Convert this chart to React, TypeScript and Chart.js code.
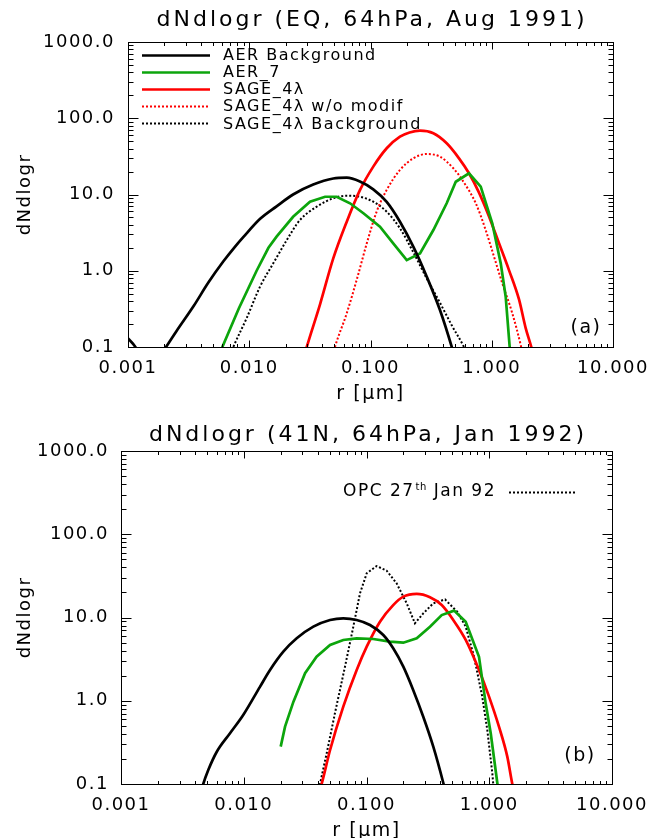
import React, { useEffect, useRef } from 'react';
import { Chart, registerables } from 'chart.js';

Chart.register(...registerables);

const FONT = 'DejaVu Sans';

// ---- axis ticks ----
const xTickValues = [0.001, 0.01, 0.1, 1, 10];
const xTickLabels = ['0.001', '0.010', '0.100', '1.000', '10.000'];
const yTickValues = [0.1, 1, 10, 100, 1000];
const yTickLabels = ['0.1', '1.0', '10.0', '100.0', '1000.0'];

// ---- panel (a): EQ, 64hPa, Aug 1991 ----
const aerBgA_r = [0.001, 0.00115, 0.0013, 0.0015, 0.0017, 0.00206, 0.0025, 0.0035, 0.0046, 0.0061, 0.0075, 0.009, 0.0123, 0.0168, 0.023, 0.0337, 0.0493, 0.0637, 0.0818, 0.1054, 0.136, 0.175, 0.2254, 0.2906, 0.374, 0.468, 0.52];
const aerBgA_y = [0.13, 0.1, 0.065, 0.045, 0.062, 0.1, 0.16, 0.35, 0.7, 1.32, 2.0, 2.8, 4.8, 7.0, 10.0, 13.5, 16.2, 16.6, 14.8, 11.7, 8.0, 4.4, 2.07, 0.84, 0.305, 0.1, 0.055];

const aer7A_r = [0.0057, 0.006, 0.0082, 0.0115, 0.0144, 0.0168, 0.023, 0.0317, 0.0422, 0.0526, 0.0678, 0.0874, 0.1197, 0.154, 0.199, 0.256, 0.33, 0.425, 0.505, 0.649, 0.811, 1.01, 1.186, 1.303, 1.406, 1.45];
const aer7A_y = [0.08, 0.1, 0.32, 1.0, 2.0, 2.8, 5.1, 8.05, 9.35, 9.35, 7.67, 5.67, 3.78, 2.29, 1.38, 1.69, 3.42, 7.67, 14.7, 19.0, 12.7, 4.19, 1.25, 0.457, 0.1, 0.07];

const sageA_r = [0.028, 0.0298, 0.0383, 0.0493, 0.0637, 0.0818, 0.1054, 0.136, 0.175, 0.21, 0.256, 0.33, 0.425, 0.537, 0.649, 0.785, 0.948, 1.148, 1.387, 1.678, 1.9, 2.12, 2.2];
const sageA_y = [0.07, 0.1, 0.36, 1.45, 4.4, 11.4, 23.2, 40.4, 57.3, 65.0, 68.7, 63.5, 46.9, 29.8, 19.0, 10.6, 5.2, 2.29, 1.02, 0.42, 0.18, 0.1, 0.08];

const sageNoModA_r = [0.048, 0.0509, 0.0637, 0.0769, 0.0932, 0.1125, 0.136, 0.175, 0.2254, 0.2906, 0.374, 0.482, 0.571, 0.738, 0.891, 1.044, 1.222, 1.477, 1.733, 1.8];
const sageNoModA_y = [0.07, 0.1, 0.277, 0.757, 2.29, 6.0, 11.5, 21.0, 29.8, 34.0, 31.3, 22.1, 15.5, 7.67, 3.42, 1.53, 0.684, 0.277, 0.106, 0.08];

const sageBgA_r = [0.007, 0.00739, 0.00953, 0.01227, 0.01577, 0.0204, 0.0262, 0.036, 0.0493, 0.0637, 0.0818, 0.1054, 0.136, 0.175, 0.2254, 0.29, 0.374, 0.47, 0.59, 0.65];
const sageBgA_y = [0.08, 0.1, 0.24, 0.618, 1.25, 2.53, 4.63, 6.92, 8.92, 9.64, 9.35, 8.05, 5.95, 3.6, 1.75, 0.8, 0.38, 0.19, 0.1, 0.07];

// ---- panel (b): 41N, 64hPa, Jan 1992 ----
const aerBgB_r = [0.0045, 0.00468, 0.00514, 0.00603, 0.00773, 0.0099, 0.01355, 0.01637, 0.021, 0.027, 0.0369, 0.0505, 0.0647, 0.0832, 0.1068, 0.137, 0.165, 0.1995, 0.24, 0.29, 0.35, 0.423, 0.45];
const aerBgB_y = [0.08, 0.1, 0.147, 0.244, 0.407, 0.674, 1.47, 2.34, 3.88, 5.62, 7.76, 9.33, 9.78, 9.33, 8.13, 6.16, 4.27, 2.57, 1.35, 0.643, 0.281, 0.102, 0.07];

const aer7B_r = [0.02, 0.0217, 0.0254, 0.0316, 0.0392, 0.0505, 0.0647, 0.0832, 0.1135, 0.155, 0.1995, 0.2565, 0.329, 0.41, 0.517, 0.643, 0.825, 0.935, 1.028, 1.164, 1.2];
const aer7B_y = [0.281, 0.488, 0.975, 2.14, 3.38, 4.67, 5.37, 5.62, 5.52, 5.12, 4.98, 5.62, 7.76, 10.7, 12.1, 8.91, 3.38, 0.931, 0.407, 0.102, 0.07];

const sageB_r = [0.04, 0.0431, 0.0505, 0.0647, 0.0832, 0.1004, 0.1288, 0.165, 0.1995, 0.2565, 0.329, 0.41, 0.509, 0.643, 0.825, 0.996, 1.2, 1.403, 1.541, 1.6];
const sageB_y = [0.07, 0.1, 0.256, 0.849, 2.34, 4.46, 8.91, 14.1, 17.8, 19.2, 17.5, 14.1, 9.33, 5.37, 2.34, 1.12, 0.488, 0.213, 0.1, 0.08];

const opcB_r = [0.04, 0.0418, 0.0474, 0.0553, 0.0668, 0.0781, 0.0885, 0.1004, 0.121, 0.146, 0.176, 0.2126, 0.248, 0.29, 0.35, 0.436, 0.55, 0.643, 0.752, 0.877, 0.964, 1.059, 1.1];
const opcB_y = [0.07, 0.1, 0.234, 0.707, 2.57, 7.76, 19.5, 34.0, 41.5, 36.5, 25.7, 14.8, 8.51, 11.2, 14.8, 16.5, 11.7, 7.76, 3.38, 1.12, 0.446, 0.135, 0.07];

const BLACK = '#000000';
const GREEN = 'rgb(12,165,12)';
const RED = 'rgb(255,0,0)';
const DOT = [2, 2];

function ds(label: string, r: number[], y: number[], color: string, dash: number[], width: number, smooth: boolean, legend: boolean) {
  return {
    label,
    data: r.map((x, i) => ({ x, y: y[i] })),
    borderColor: color,
    backgroundColor: color,
    borderWidth: width,
    borderDash: dash,
    borderCapStyle: 'butt',
    pointRadius: 0,
    pointHoverRadius: 0,
    fill: false,
    tension: 0,
    cubicInterpolationMode: smooth ? 'monotone' : 'default',
    inLegend: legend,
  };
}

const panelA = {
  title: 'dNdlogr (EQ, 64hPa, Aug 1991)',
  tag: '(a)', tagX: 586, tagY: 328,
  padTop: 42, padRight: 36, yWidth: 128, xHeight: 68, xTitlePad: 9.6, yTickPad: 5, xTickPad: 3,
  legend: 'list',
  datasets: [
    ds('AER Background', aerBgA_r, aerBgA_y, BLACK, [], 2.7, true, true),
    ds('AER_7', aer7A_r, aer7A_y, GREEN, [], 2.7, false, true),
    ds('SAGE_4λ', sageA_r, sageA_y, RED, [], 2.7, true, true),
    ds('SAGE_4λ w/o modif', sageNoModA_r, sageNoModA_y, RED, DOT, 2, true, true),
    ds('SAGE_4λ Background', sageBgA_r, sageBgA_y, BLACK, DOT, 2, true, true),
  ],
};

const panelB = {
  title: 'dNdlogr (41N, 64hPa, Jan 1992)',
  tag: '(b)', tagX: 580, tagY: 341,
  padTop: 36, padRight: 37, yWidth: 121, xHeight: 71, xTitlePad: 12.6, yTickPad: 4, xTickPad: 3,
  legend: 'opc',
  datasets: [
    ds('AER Background', aerBgB_r, aerBgB_y, BLACK, [], 2.7, true, false),
    ds('AER_7', aer7B_r, aer7B_y, GREEN, [], 2.7, false, false),
    ds('SAGE_4λ', sageB_r, sageB_y, RED, [], 2.7, true, false),
    ds('OPC 27th Jan 92', opcB_r, opcB_y, BLACK, DOT, 2, false, true),
  ],
};

function labelFor(values: number[], labels: string[], v: number) {
  const i = values.findIndex((t) => Math.abs(Math.log10(t) - Math.log10(v)) < 1e-6);
  return i >= 0 ? labels[i] : '';
}

const decorPlugin = {
  id: 'decor',
  beforeDraw(chart: any) {
    chart.ctx.letterSpacing = '1.5px';
  },
  afterDatasetsDraw(chart: any) {
    const { ctx, chartArea, scales } = chart;
    const xs = scales.x;
    const ys = scales.y;
    const L = Math.round(chartArea.left) + 0.5;
    const R = Math.round(chartArea.right) + 0.5;
    const T = Math.round(chartArea.top) + 0.5;
    const B = Math.round(chartArea.bottom) + 0.5;
    ctx.save();
    ctx.setLineDash([]);
    ctx.strokeStyle = '#000';
    ctx.lineWidth = 1;
    ctx.strokeRect(L, T, R - L, B - T);
    ctx.beginPath();
    for (let e = -3; e <= 1; e++) {
      for (let m = 1; m <= 9; m++) {
        const v = m * Math.pow(10, e);
        if (v > xs.max * 1.0001) continue;
        const len = m === 1 ? 7 : 3.5;
        const px = Math.round(xs.getPixelForValue(v)) + 0.5;
        ctx.moveTo(px, B); ctx.lineTo(px, B - len);
        ctx.moveTo(px, T); ctx.lineTo(px, T + len);
      }
    }
    for (let e = -1; e <= 3; e++) {
      for (let m = 1; m <= 9; m++) {
        const v = m * Math.pow(10, e);
        if (v > ys.max * 1.0001) continue;
        const len = m === 1 ? 10 : 5;
        const py = Math.round(ys.getPixelForValue(v)) + 0.5;
        ctx.moveTo(L, py); ctx.lineTo(L + len, py);
        ctx.moveTo(R, py); ctx.lineTo(R - len, py);
      }
    }
    ctx.stroke();
    ctx.restore();
  },
  afterDraw(chart: any) {
    const { ctx, chartArea } = chart;
    const cfg = chart.options.plugins.decor;
    ctx.save();
    ctx.fillStyle = '#000';
    // main title
    ctx.letterSpacing = '3px';
    ctx.font = `22px "${FONT}"`;
    ctx.textAlign = 'center';
    ctx.textBaseline = 'middle';
    ctx.fillText(cfg.title, (chartArea.left + chartArea.right) / 2 + 1.5, 20);
    // panel tag
    ctx.letterSpacing = '1.5px';
    ctx.font = `19px "${FONT}"`;
    ctx.fillText(cfg.tag, cfg.tagX, cfg.tagY);
    // legend
    ctx.font = `16px "${FONT}"`;
    ctx.textAlign = 'left';
    const items = chart.data.datasets.filter((d: any) => d.inLegend);
    if (cfg.legend === 'list') {
      items.forEach((d: any, i: number) => {
        const y = 55 + i * 17.1;
        ctx.save();
        ctx.strokeStyle = d.borderColor;
        ctx.lineWidth = d.borderDash.length ? 2 : 2.7;
        ctx.setLineDash(d.borderDash);
        ctx.beginPath();
        ctx.moveTo(142, Math.round(y) + 0.5);
        ctx.lineTo(210, Math.round(y) + 0.5);
        ctx.stroke();
        ctx.restore();
        ctx.fillText(d.label, 223, y + 1);
      });
    } else {
      const d = items[0];
      const y = 77;
      let x = 343;
      ctx.font = `17px "${FONT}"`;
      ctx.fillText('OPC 27', x, y);
      x += ctx.measureText('OPC 27').width;
      ctx.font = `10px "${FONT}"`;
      ctx.letterSpacing = '0.5px';
      ctx.fillText('th', x + 1, y - 5);
      x += ctx.measureText('th').width + 1;
      ctx.font = `17px "${FONT}"`;
      ctx.letterSpacing = '1.5px';
      ctx.fillText(' Jan 92', x, y);
      ctx.save();
      ctx.strokeStyle = d.borderColor;
      ctx.lineWidth = 2;
      ctx.setLineDash(d.borderDash);
      ctx.beginPath();
      ctx.moveTo(509, y + 0.5);
      ctx.lineTo(577, y + 0.5);
      ctx.stroke();
      ctx.restore();
    }
    ctx.restore();
  },
};

function makeConfig(p: any): any {
  return {
    type: 'line',
    data: { datasets: p.datasets },
    plugins: [decorPlugin],
    options: {
      responsive: false,
      maintainAspectRatio: false,
      animation: false,
      devicePixelRatio: 1,
      events: [],
      layout: { padding: { top: p.padTop, right: p.padRight, left: 0, bottom: 0 } },
      elements: { line: { capBezierPoints: false } },
      plugins: {
        legend: { display: false },
        title: { display: false },
        tooltip: { enabled: false },
        decor: { title: p.title, tag: p.tag, tagX: p.tagX, tagY: p.tagY, legend: p.legend },
      },
      scales: {
        x: {
          type: 'logarithmic',
          position: 'bottom',
          min: 0.001,
          max: 10,
          grid: { display: false },
          border: { display: false },
          ticks: {
            color: '#000',
            font: { family: FONT, size: 18 },
            padding: p.xTickPad,
            maxRotation: 0,
            autoSkip: false,
            callback: (v: number) => labelFor(xTickValues, xTickLabels, v),
          },
          afterBuildTicks: (s: any) => { s.ticks = xTickValues.map((v) => ({ value: v })); },
          afterFit: (s: any) => { s.height = p.xHeight; s.paddingLeft = 0; s.paddingRight = 0; },
          title: {
            display: true,
            text: 'r [μm]',
            color: '#000',
            font: { family: FONT, size: 19 },
            padding: { top: 0, bottom: p.xTitlePad },
          },
        },
        y: {
          type: 'logarithmic',
          position: 'left',
          min: 0.1,
          max: 1000,
          grid: { display: false },
          border: { display: false },
          ticks: {
            color: '#000',
            font: { family: FONT, size: 18 },
            padding: p.yTickPad,
            autoSkip: false,
            callback: (v: number) => labelFor(yTickValues, yTickLabels, v),
          },
          afterBuildTicks: (s: any) => { s.ticks = yTickValues.map((v) => ({ value: v })); },
          afterFit: (s: any) => { s.width = p.yWidth; s.paddingTop = 0; s.paddingBottom = 0; },
          title: {
            display: true,
            text: 'dNdlogr',
            color: '#000',
            font: { family: FONT, size: 18 },
            padding: { top: 15, bottom: 0 },
          },
        },
      },
    },
  };
}

export default function App() {
  const refA = useRef<HTMLCanvasElement>(null);
  const refB = useRef<HTMLCanvasElement>(null);
  useEffect(() => {
    const a = new Chart(refA.current as HTMLCanvasElement, makeConfig(panelA));
    const b = new Chart(refB.current as HTMLCanvasElement, makeConfig(panelB));
    return () => {
      a.destroy();
      b.destroy();
    };
  }, []);
  return (
    <div style={{ position: 'absolute', left: 0, top: 0, width: 649, height: 838, overflow: 'hidden', background: '#fff' }}>
      <canvas ref={refA} width={649} height={415} style={{ position: 'absolute', left: 0, top: 0, width: 649, height: 415 }} />
      <canvas ref={refB} width={649} height={440} style={{ position: 'absolute', left: 0, top: 415, width: 649, height: 440 }} />
    </div>
  );
}
